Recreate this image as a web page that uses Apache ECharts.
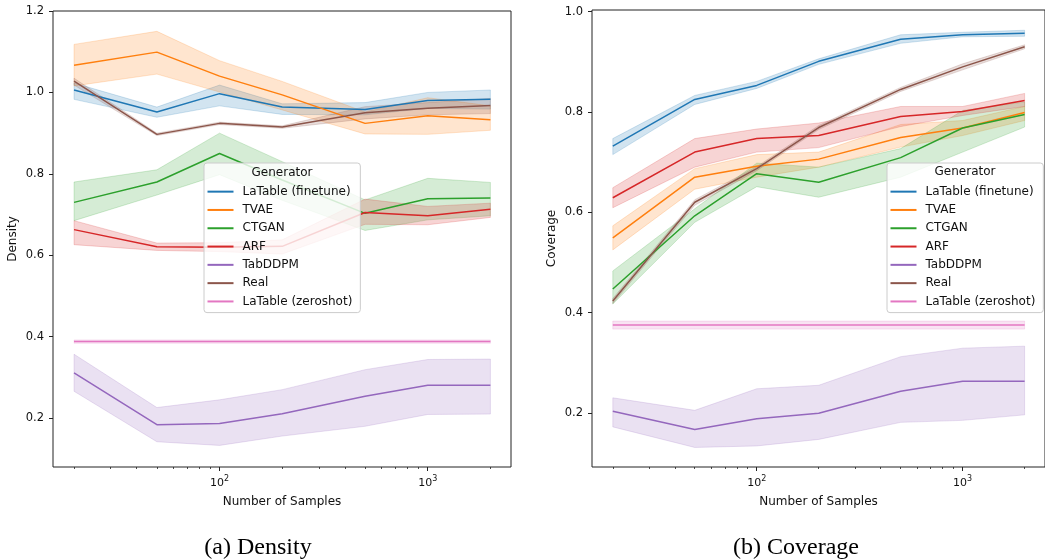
<!DOCTYPE html>
<html><head><meta charset="utf-8">
<script src="https://cdn.jsdelivr.net/npm/echarts@6/dist/echarts.min.js"></script>
<style>html,body{margin:0;padding:0;background:#fff}#c{width:1045px;height:560px}</style>
</head><body><div id="c"></div>
<script>
const samples = [20, 50, 100, 200, 500, 1000, 2000];
const generators = ['LaTable (finetune)', 'TVAE', 'CTGAN', 'ARF', 'TabDDPM', 'Real', 'LaTable (zeroshot)'];
const colors = ['#1f77b4', '#ff7f0e', '#2ca02c', '#d62728', '#9467bd', '#8c564b', '#e377c2'];

const majorXTicks = [100, 1000];
const minorXTicks = [20, 30, 40, 50, 60, 70, 80, 90, 200, 300, 400, 500, 600, 700, 800, 900, 2000];
const densityTicks = [0.2, 0.4, 0.6, 0.8, 1.0, 1.2];
const coverageTicks = [0.2, 0.4, 0.6, 0.8, 1.0];

// ---- Density (mean, lower, upper) ----
const densFinetune   = [1.006, 0.952, 0.997, 0.964, 0.958, 0.980, 0.983];
const densFinetuneLo = [0.983, 0.939, 0.967, 0.946, 0.945, 0.961, 0.959];
const densFinetuneHi = [1.023, 0.964, 1.018, 0.972, 0.975, 1.000, 1.006];
const densTVAE   = [1.067, 1.099, 1.040, 0.994, 0.924, 0.943, 0.933];
const densTVAELo = [1.016, 1.045, 1.001, 0.957, 0.898, 0.897, 0.907];
const densTVAEHi = [1.118, 1.150, 1.078, 1.027, 0.952, 0.987, 0.967];
const densCTGAN   = [0.730, 0.780, 0.850, 0.785, 0.703, 0.739, 0.741];
const densCTGANLo = [0.685, 0.748, 0.798, 0.735, 0.661, 0.687, 0.697];
const densCTGANHi = [0.780, 0.810, 0.900, 0.830, 0.736, 0.789, 0.779];
const densARF   = [0.663, 0.621, 0.620, 0.622, 0.705, 0.697, 0.713];
const densARFLo = [0.626, 0.612, 0.609, 0.603, 0.676, 0.675, 0.693];
const densARFHi = [0.685, 0.630, 0.631, 0.638, 0.738, 0.720, 0.728];
const densTabDDPM   = [0.311, 0.184, 0.187, 0.211, 0.254, 0.281, 0.281];
const densTabDDPMLo = [0.266, 0.142, 0.133, 0.156, 0.180, 0.209, 0.210];
const densTabDDPMHi = [0.357, 0.226, 0.245, 0.270, 0.319, 0.344, 0.345];
const densReal   = [1.028, 0.897, 0.924, 0.915, 0.950, 0.961, 0.968];
const densRealLo = [1.018, 0.894, 0.921, 0.912, 0.935, 0.945, 0.948];
const densRealHi = [1.035, 0.900, 0.927, 0.918, 0.965, 0.975, 0.985];
const densZeroshot   = [0.388, 0.388, 0.388, 0.388, 0.388, 0.388, 0.388];
const densZeroshotLo = [0.384, 0.384, 0.384, 0.384, 0.384, 0.384, 0.384];
const densZeroshotHi = [0.392, 0.392, 0.392, 0.392, 0.392, 0.392, 0.392];

// ---- Coverage (mean, lower, upper) ----
const covFinetune   = [0.732, 0.825, 0.853, 0.901, 0.945, 0.954, 0.957];
const covFinetuneLo = [0.715, 0.815, 0.847, 0.895, 0.937, 0.950, 0.951];
const covFinetuneHi = [0.747, 0.833, 0.861, 0.906, 0.954, 0.959, 0.963];
const covTVAE   = [0.549, 0.670, 0.692, 0.706, 0.749, 0.768, 0.799];
const covTVAELo = [0.525, 0.646, 0.670, 0.690, 0.730, 0.753, 0.783];
const covTVAEHi = [0.573, 0.687, 0.715, 0.720, 0.775, 0.783, 0.811];
const covCTGAN   = [0.447, 0.593, 0.677, 0.660, 0.709, 0.768, 0.795];
const covCTGANLo = [0.417, 0.580, 0.651, 0.630, 0.670, 0.720, 0.770];
const covCTGANHi = [0.483, 0.607, 0.698, 0.690, 0.727, 0.803, 0.820];
const covARF   = [0.629, 0.720, 0.747, 0.753, 0.791, 0.801, 0.823];
const covARFLo = [0.609, 0.690, 0.720, 0.729, 0.771, 0.793, 0.811];
const covARFHi = [0.649, 0.747, 0.766, 0.778, 0.811, 0.811, 0.837];
const covTabDDPM   = [0.203, 0.167, 0.188, 0.199, 0.243, 0.263, 0.263];
const covTabDDPMLo = [0.172, 0.131, 0.134, 0.147, 0.181, 0.185, 0.196];
const covTabDDPMHi = [0.230, 0.205, 0.248, 0.255, 0.312, 0.329, 0.333];
const covReal   = [0.423, 0.620, 0.687, 0.769, 0.845, 0.890, 0.930];
const covRealLo = [0.418, 0.614, 0.683, 0.765, 0.841, 0.884, 0.926];
const covRealHi = [0.428, 0.625, 0.691, 0.773, 0.849, 0.896, 0.934];
const covZeroshot   = [0.375, 0.375, 0.375, 0.375, 0.375, 0.375, 0.375];
const covZeroshotLo = [0.367, 0.367, 0.367, 0.367, 0.367, 0.367, 0.367];
const covZeroshotHi = [0.383, 0.383, 0.383, 0.383, 0.383, 0.383, 0.383];

const densitySets = [
  [densFinetune, densFinetuneLo, densFinetuneHi],
  [densTVAE, densTVAELo, densTVAEHi],
  [densCTGAN, densCTGANLo, densCTGANHi],
  [densARF, densARFLo, densARFHi],
  [densTabDDPM, densTabDDPMLo, densTabDDPMHi],
  [densReal, densRealLo, densRealHi],
  [densZeroshot, densZeroshotLo, densZeroshotHi]
];
const coverageSets = [
  [covFinetune, covFinetuneLo, covFinetuneHi],
  [covTVAE, covTVAELo, covTVAEHi],
  [covCTGAN, covCTGANLo, covCTGANHi],
  [covARF, covARFLo, covARFHi],
  [covTabDDPM, covTabDDPMLo, covTabDDPMHi],
  [covReal, covRealLo, covRealHi],
  [covZeroshot, covZeroshotLo, covZeroshotHi]
];

function rgba(hex, a) {
  const r = parseInt(hex.slice(1, 3), 16), g = parseInt(hex.slice(3, 5), 16), b = parseInt(hex.slice(5, 7), 16);
  return 'rgba(' + r + ',' + g + ',' + b + ',' + a + ')';
}

const TXT = '#111';
const FONT = 'DejaVu Sans';

function bandSeries(gi, idx, lo, hi) {
  const col = colors[idx];
  return {
    type: 'custom', name: generators[idx] + ' band ' + gi,
    xAxisIndex: gi * 2, yAxisIndex: gi, z: 1, silent: true, animation: false,
    data: samples.map((s, i) => [s, lo[i], hi[i]]),
    encode: { x: 0, y: [1, 2] },
    renderItem: function (params, api) {
      if (params.dataIndexInside !== 0) return null;
      const n = params.dataInsideLength;
      const top = [], bot = [];
      for (let j = 0; j < n; j++) {
        top.push(api.coord([api.value(0, j), api.value(2, j)]));
        bot.push(api.coord([api.value(0, j), api.value(1, j)]));
      }
      return {
        type: 'polygon',
        shape: { points: top.concat(bot.reverse()) },
        style: { fill: rgba(col, 0.2), stroke: rgba(col, 0.2), lineWidth: 1 }
      };
    }
  };
}

function lineSeries(gi, idx, mean) {
  return {
    type: 'line', name: generators[idx], xAxisIndex: gi * 2, yAxisIndex: gi, z: 3,
    data: samples.map((s, i) => [s, mean[i]]),
    showSymbol: false, symbol: 'none', animation: false,
    color: colors[idx],
    lineStyle: { width: 1.5, color: colors[idx] }
  };
}

const series = [];
[densitySets, coverageSets].forEach((sets, gi) => {
  sets.forEach((s, idx) => {
    series.push(bandSeries(gi, idx, s[1], s[2]));
    series.push(lineSeries(gi, idx, s[0]));
  });
});

function xAxes(gi) {
  const lo = Math.pow(10, 1.2), hi = Math.pow(10, 3.4);
  return [
    {
      type: 'log', logBase: 10, gridIndex: gi, min: lo, max: hi, position: 'bottom',
      axisLine: { show: false }, splitLine: { show: false },
      axisTick: { show: true, length: 4, customValues: majorXTicks, lineStyle: { color: '#222', width: 1 } },
      axisLabel: {
        customValues: majorXTicks,
        formatter: v => '{n|10}{s|' + Math.round(Math.log10(v)) + '}',
        margin: 6, color: TXT,
        rich: {
          n: { fontSize: 11, fontFamily: FONT, color: TXT, verticalAlign: 'bottom', lineHeight: 16 },
          s: { fontSize: 8, fontFamily: FONT, color: TXT, verticalAlign: 'bottom', lineHeight: 16, padding: [0, 0, 6, 0] }
        }
      },
      name: 'Number of Samples', nameLocation: 'middle', nameGap: 29,
      nameTextStyle: { fontSize: 12, fontFamily: FONT, color: TXT }
    },
    {
      type: 'log', logBase: 10, gridIndex: gi, min: lo, max: hi, position: 'bottom',
      axisLine: { show: false }, splitLine: { show: false },
      axisTick: { show: true, length: 2, customValues: minorXTicks, lineStyle: { color: '#222', width: 0.8 } },
      axisLabel: { show: false }
    }
  ];
}

function yAxis(gi, min, max, ticks, name) {
  return {
    type: 'value', gridIndex: gi, min: min, max: max,
    axisLine: { show: false }, splitLine: { show: false },
    axisTick: { show: true, length: 4, customValues: ticks, lineStyle: { color: '#222', width: 1 } },
    axisLabel: { customValues: ticks, formatter: v => v.toFixed(1), fontSize: 11.5, fontFamily: FONT, color: TXT, margin: 9 },
    name: name, nameLocation: 'middle', nameGap: 34,
    nameTextStyle: { fontSize: 12, fontFamily: FONT, color: TXT }
  };
}

function legend(left) {
  return {
    data: generators, orient: 'vertical', left: left, top: 163,
    icon: 'rect', itemWidth: 26, itemHeight: 2, itemGap: 0,
    padding: [19.5, 8, 2, 3.5],
    backgroundColor: 'rgba(255,255,255,0.8)', borderColor: '#cccccc', borderWidth: 1, borderRadius: 3,
    textStyle: { fontSize: 12, fontFamily: FONT, color: TXT, lineHeight: 18.3, padding: [0, 0, 0, 4] },
    selectedMode: false
  };
}

const chart = echarts.init(document.getElementById('c'), null, { renderer: 'canvas' });
chart.setOption({
  animation: false,
  backgroundColor: '#fff',
  grid: [
    { left: 53, top: 11, width: 458, height: 456, show: true, borderColor: '#222', borderWidth: 1, backgroundColor: 'transparent', containLabel: false },
    { left: 592, top: 10, width: 457, height: 457, show: true, borderColor: '#222', borderWidth: 1, backgroundColor: 'transparent', containLabel: false }
  ],
  xAxis: xAxes(0).concat(xAxes(1)),
  yAxis: [
    yAxis(0, 0.08, 1.2, densityTicks, 'Density'),
    yAxis(1, 0.092, 1.0034, coverageTicks, 'Coverage')
  ],
  legend: [legend(204), legend(887)],
  graphic: [
    { type: 'text', x: 282, y: 173, z: 100, style: { text: 'Generator', align: 'center', verticalAlign: 'middle', font: '12px "DejaVu Sans"', fill: TXT } },
    { type: 'text', x: 965, y: 172, z: 100, style: { text: 'Generator', align: 'center', verticalAlign: 'middle', font: '12px "DejaVu Sans"', fill: TXT } },
    { type: 'text', x: 258, y: 548, style: { text: '(a) Density', align: 'center', verticalAlign: 'middle', font: '24px "Liberation Serif"', fill: '#000' } },
    { type: 'text', x: 796, y: 548, style: { text: '(b) Coverage', align: 'center', verticalAlign: 'middle', font: '24px "Liberation Serif"', fill: '#000' } }
  ],
  series: series
});
</script>
</body></html>
